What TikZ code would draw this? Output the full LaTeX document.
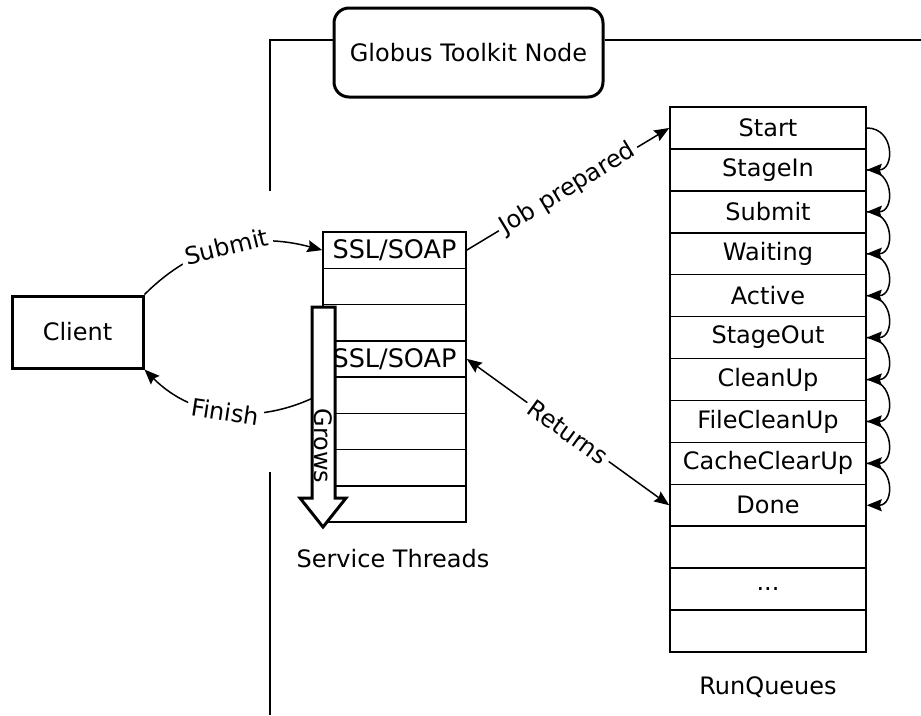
\documentclass[tikz,border=0pt]{standalone}
\usepackage{fontspec}
\setmainfont{DejaVu Sans}
\usetikzlibrary{arrows.meta,calc}
\newcommand\rqdots{...}
\newcommand\sslsoap{{\fontsize{25.5}{28}\selectfont SSL/SOAP}}
\begin{document}
\begin{tikzpicture}[x=1pt,y=-1pt,
  txt/.style={font=\fontsize{24}{28}\selectfont},
  thinline/.style={line width=1.5pt},
  cellst/.style={txt,draw,thinline,minimum width=143pt,minimum height=36.25pt,inner sep=0pt},
  cellrq/.style={txt,draw,thinline,minimum width=196pt,minimum height=41.92pt,inner sep=0pt},
  bigbox/.style={txt,draw,line width=3pt,inner sep=0pt},
  tipst/.tip={Stealth[length=15pt,width=12pt,inset=2pt]},
  arr/.style={thinline,-tipst},
  darr/.style={thinline,tipst-tipst},
  lbl/.style={txt,fill=white,inner sep=4pt},
  plain/.style={txt,inner sep=0pt}
]
\useasboundingbox (0,0) rectangle (921,715);

% Globus toolkit node and boundary
\node[bigbox,rounded corners=15pt,minimum width=269pt,minimum height=89pt] (gtk) at (468.5,52.5) {Globus Toolkit Node};
\coordinate (tl) at (270,40);
\coordinate (tr) at (921,40);
\coordinate (lgapa) at (270,191);
\coordinate (lgapb) at (270,472);
\coordinate (lbot) at (270,715);
\draw[line width=2pt] (gtk.west |- tl) -- (tl) -- (lgapa);
\draw[line width=2pt] (lgapb) -- (lbot);
\draw[line width=2pt] (gtk.east |- tr) -- (tr);

% Client
\node[bigbox,minimum width=131pt,minimum height=72pt] (client) at (77.5,332) {Client};

% Service threads
\foreach \i/\t in {0/\sslsoap,1/,2/,3/\sslsoap,4/,5/,6/,7/} {
  \node[cellst] (st\i) at (394.5,{232+36.25*(\i+0.5)}) {\t};
}
\node[plain,anchor=base] (stlabel) at (393,567) {Service Threads};

% Run queues
\foreach \i/\t in {0/Start,1/StageIn,2/Submit,3/Waiting,4/Active,5/StageOut,6/CleanUp,7/FileCleanUp,8/CacheClearUp,9/Done,10/,11/\rqdots,12/} {
  \node[cellrq] (rq\i) at (768,{107+41.92*(\i+0.5)}) {\t};
}
\node[plain,anchor=base] (rqlabel) at (768,694) {RunQueues};

% state transitions
\foreach \i [evaluate=\i as \j using int(\i+1)] in {0,1,2,3,4,5,6,7,8} {
  \draw[arr] (rq\i.east) .. controls +(28,0) and +(28,0) .. (rq\j.east);
}

% connectors
\draw[arr] (client.north east) to[out=45,in=165] node[lbl,sloped] {Submit} (st0.west);
\coordinate (finstart) at (323,393);
\draw[arr] (finstart) to[out=208,in=-45] node[lbl,sloped,pos=0.52] {Finish} (client.south east);
\draw[arr] (st0.east) -- node[lbl,sloped] {Job prepared} (rq0.west);
\draw[darr] (st3.east) -- node[lbl,sloped] {Returns} (rq9.west);

% Grows arrow
\draw[line width=3pt,fill=white,line join=miter]
  (312,307) -- (335,307) -- (335,498) -- (346,498) -- (323,527) -- (300,498) -- (312,498) -- cycle;
\node[plain,rotate=-90] (grows) at (323.5,446) {Grows};
\end{tikzpicture}
\end{document}
